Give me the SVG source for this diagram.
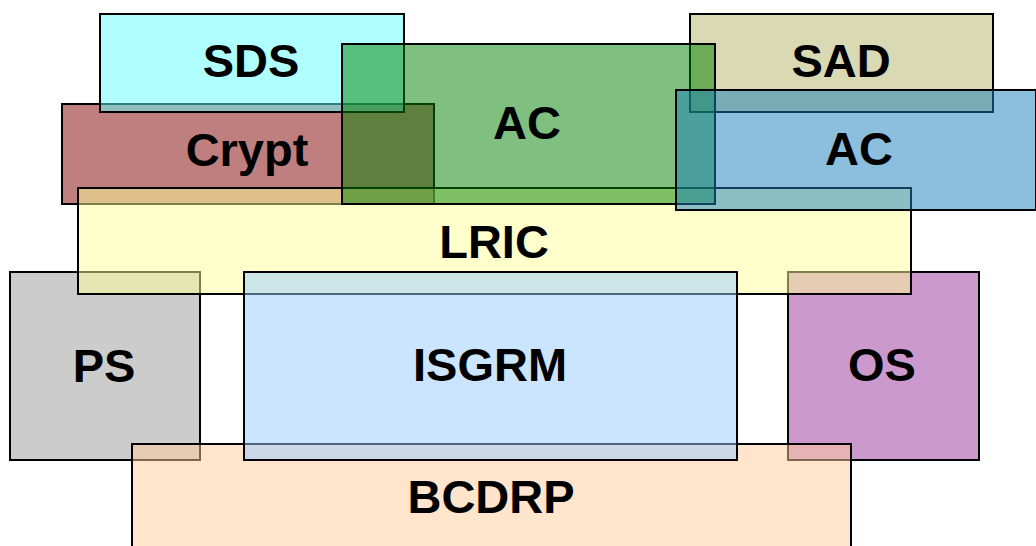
<svg xmlns="http://www.w3.org/2000/svg" width="1036" height="546" viewBox="0 0 1036 546">
  <style>
    .box { fill-opacity: 0.5; stroke: #000; stroke-width: 2; }
    .lbl { font-family: "Liberation Sans", Arial, sans-serif; font-weight: bold; font-size: 47px; fill: #000; text-anchor: middle; }
  </style>
  <rect x="0" y="0" width="1036" height="546" fill="#fff"/>
  <g id="ps">
    <rect class="box" x="10" y="272" width="190" height="188" fill="#999999"/>
    <text class="lbl" x="104" y="382">PS</text>
  </g>
  <g id="os">
    <rect class="box" x="788" y="272" width="191" height="188" fill="#993399"/>
    <text class="lbl" x="882" y="381">OS</text>
  </g>
  <g id="bcdrp">
    <rect class="box" x="132" y="444" width="719" height="120" fill="#FFCB99"/>
    <text class="lbl" x="491" y="513">BCDRP</text>
  </g>
  <g id="crypt">
    <rect class="box" x="62" y="104" width="372" height="100" fill="#800000"/>
    <text class="lbl" x="247" y="166">Crypt</text>
  </g>
  <g id="lric">
    <rect class="box" x="78" y="188" width="833" height="106" fill="#FFFF99"/>
    <text class="lbl" x="494" y="258">LRIC</text>
  </g>
  <g id="isgrm">
    <rect class="box" x="244" y="272" width="493" height="188" fill="#99CBFF"/>
    <text class="lbl" x="490" y="381">ISGRM</text>
  </g>
  <g id="sds">
    <rect class="box" x="100" y="14" width="304" height="98" fill="#61FFFF"/>
    <text class="lbl" x="251" y="77">SDS</text>
  </g>
  <g id="sad">
    <rect class="box" x="690" y="14" width="303" height="98" fill="#B3B367"/>
    <text class="lbl" x="841" y="77">SAD</text>
  </g>
  <g id="ac-green">
    <rect class="box" x="342" y="44" width="373" height="160" fill="#008000"/>
    <text class="lbl" x="527" y="139">AC</text>
  </g>
  <g id="ac-blue">
    <rect class="box" x="676" y="90" width="360" height="120" fill="#177FBB"/>
    <text class="lbl" x="859" y="165">AC</text>
  </g>
  <g id="connectors"/>
</svg>
